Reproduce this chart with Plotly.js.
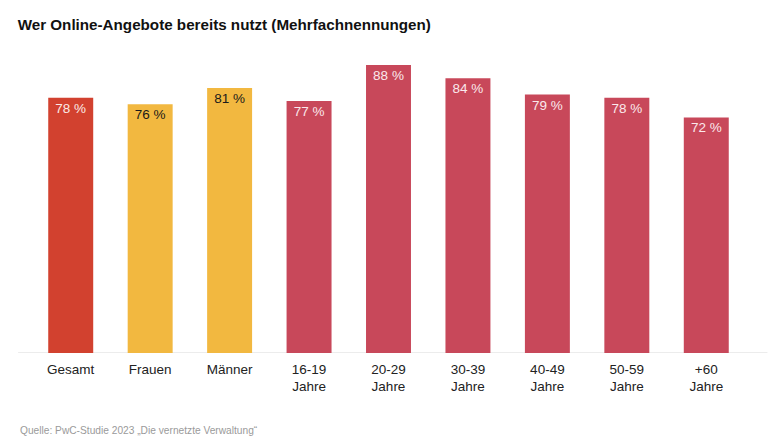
<!DOCTYPE html>
<html>
<head>
<meta charset="utf-8">
<script src="https://cdn.plot.ly/plotly-3.0.1.min.js"></script>
<style>html,body{margin:0;padding:0;background:#fff;}#chart{width:768px;height:444px;}</style>
</head>
<body>
<div id="chart"></div>
<script>
const categories = ["Gesamt", "Frauen", "Männer", "16-19<br>Jahre", "20-29<br>Jahre", "30-39<br>Jahre", "40-49<br>Jahre", "50-59<br>Jahre", "+60<br>Jahre"];
const values = [78, 76, 81, 77, 88, 84, 79, 78, 72];
const barColors = ["#d2412f", "#f2b840", "#f2b840", "#c8485a", "#c8485a", "#c8485a", "#c8485a", "#c8485a", "#c8485a"];
const labelColors = ["#fbe9e6", "#1a1a1a", "#1a1a1a", "#fbe9ec", "#fbe9ec", "#fbe9ec", "#fbe9ec", "#fbe9ec", "#fbe9ec"];
const titleText = "Wer Online-Angebote bereits nutzt (Mehrfachnennungen)";
const sourceText = "Quelle: PwC-Studie 2023 „Die vernetzte Verwaltung“";

const trace = {
  type: "bar",
  x: categories,
  y: values,
  marker: {color: barColors},
  text: values.map(v => v + " %"),
  textposition: "inside",
  insidetextanchor: "end",
  textangle: 0,
  textfont: {family: "Liberation Sans, Arial, sans-serif", size: 13.5, color: labelColors},
  hoverinfo: "none",
  cliponaxis: false
};

const layout = {
  width: 768, height: 444,
  margin: {l: 31, r: 22, t: 50, b: 91},
  paper_bgcolor: "#fff", plot_bgcolor: "#fff",
  bargap: 0.434,
  showlegend: false,
  font: {family: "Liberation Sans, Arial, sans-serif", color: "#222"},
  title: {text: "<b>" + titleText + "</b>", x: 0.023, xanchor: "left", y: 0.945, yanchor: "middle",
          font: {size: 15.2, color: "#111", family: "Liberation Sans, Arial, sans-serif"}},
  xaxis: {type: "category", showgrid: false, zeroline: false, showline: false, ticks: "",
          tickfont: {size: 13.5, color: "#222"}, ticklabelstandoff: 6, fixedrange: true},
  yaxis: {range: [0, 92.6], visible: false, fixedrange: true},
  shapes: [{type: "line", xref: "paper", yref: "y", x0: -0.018, x1: 1.03, y0: 0, y1: 0,
            line: {color: "#e6e6e6", width: 1.5}, layer: "below"}],
  annotations: [{text: sourceText, xref: "paper", yref: "paper", x: -0.018, xanchor: "left",
                 y: -0.255, yanchor: "middle", showarrow: false,
                 font: {size: 10.2, color: "#9a9a9a"}}]
};

Plotly.newPlot("chart", [trace], layout, {displayModeBar: false, staticPlot: true});
</script>
</body>
</html>
